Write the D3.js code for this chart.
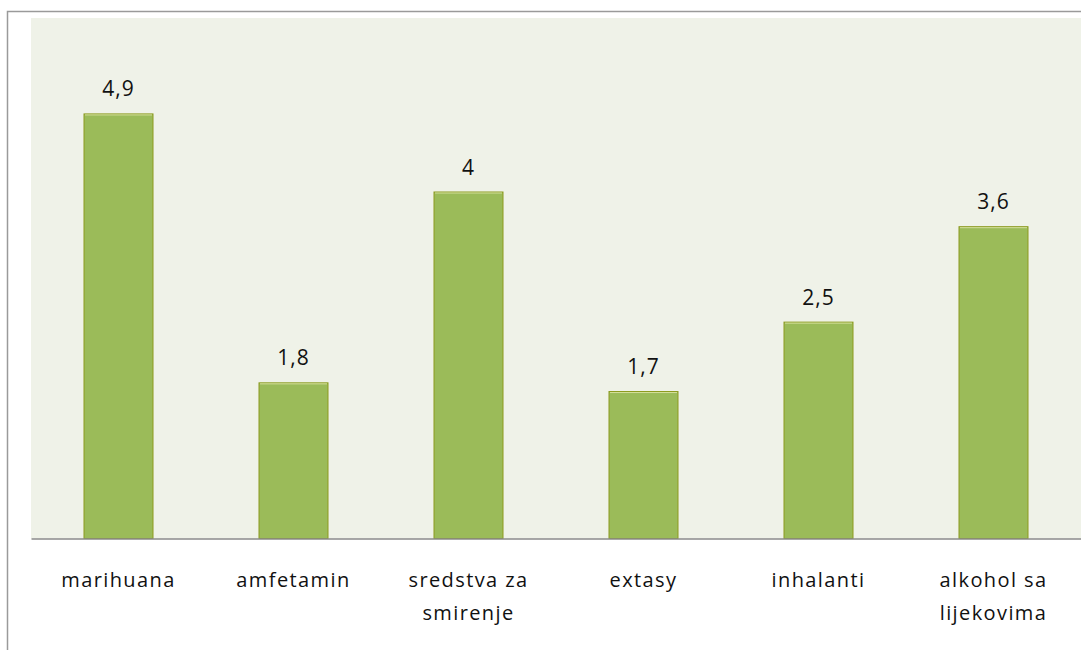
<!DOCTYPE html>
<html>
<head>
<meta charset="utf-8">
<script src="https://cdn.jsdelivr.net/npm/d3@7"></script>
<style>
  html, body { margin: 0; padding: 0; background: #fff; }
  svg { display: block; }
  text { font-family: "Open Sans", "Noto Sans", sans-serif; fill: #111; }
</style>
</head>
<body>
<svg id="chart" width="1081" height="650"></svg>
<script>
const categories = [
  ["marihuana"],
  ["amfetamin"],
  ["sredstva za", "smirenje"],
  ["extasy"],
  ["inhalanti"],
  ["alkohol sa", "lijekovima"]
];
const values = [4.9, 1.8, 4, 1.7, 2.5, 3.6];
const valueLabels = ["4,9", "1,8", "4", "1,7", "2,5", "3,6"];

const svg = d3.select("#chart");
const W = 1081, H = 650;
const plot = { left: 31, top: 18, right: 1081, bottom: 538.5 };

// outer chart frame
svg.append("rect")
  .attr("x", 7.5).attr("y", 11.5)
  .attr("width", W + 10).attr("height", H + 10)
  .attr("fill", "#fff")
  .attr("stroke", "#9a9a9a").attr("stroke-width", 1.5);

// plot area background
svg.append("rect")
  .attr("x", plot.left).attr("y", plot.top)
  .attr("width", plot.right - plot.left).attr("height", plot.bottom - plot.top)
  .attr("fill", "#eff2e8");

const keys = categories.map(c => c.join(" "));
const x = d3.scaleBand().domain(keys)
  .range([plot.left, plot.right])
  .paddingInner(0.6).paddingOuter(0.3);
const y = d3.scaleLinear().domain([0, 6]).range([plot.bottom, plot.top]);

const data = keys.map((k, i) => ({ key: k, lines: categories[i], v: values[i], label: valueLabels[i] }));

// bars
const bars = svg.append("g");
bars.selectAll("rect.bar").data(data).join("rect")
  .attr("class", "bar")
  .attr("x", d => x(d.key) + 0.5)
  .attr("y", d => y(d.v) + 0.5)
  .attr("width", x.bandwidth() - 1)
  .attr("height", d => y(0) - y(d.v) - 0.5)
  .attr("fill", "#9bbb59")
  .attr("stroke", "#8c9a1e").attr("stroke-width", 1);

// light highlight along each bar top
bars.selectAll("line.hi").data(data).join("line")
  .attr("class", "hi")
  .attr("x1", d => x(d.key) + 1.5).attr("x2", d => x(d.key) + x.bandwidth() - 1.5)
  .attr("y1", d => y(d.v) + 1.5).attr("y2", d => y(d.v) + 1.5)
  .attr("stroke", "#d4df9a").attr("stroke-width", 1);

// category axis line
const axis = svg.append("g")
  .attr("transform", `translate(0,${plot.bottom})`)
  .call(d3.axisBottom(x).tickSize(0).tickFormat(""));
axis.select(".domain").attr("stroke", "#8a8a8a").attr("stroke-width", 1.5);

// value labels
svg.append("g").selectAll("text").data(data).join("text")
  .attr("x", d => x(d.key) + x.bandwidth() / 2)
  .attr("y", d => y(d.v) - 17)
  .attr("text-anchor", "middle")
  .attr("font-size", 21)
  .attr("letter-spacing", 1)
  .text(d => d.label);

// category labels
const cat = svg.append("g").selectAll("text").data(data).join("text")
  .attr("x", d => x(d.key) + x.bandwidth() / 2)
  .attr("y", 587)
  .attr("text-anchor", "middle")
  .attr("font-size", 20)
  .attr("letter-spacing", 1.4);
cat.selectAll("tspan").data(d => d.lines.map(l => ({ l, cx: x(d.key) + x.bandwidth() / 2 })))
  .join("tspan")
  .attr("x", t => t.cx)
  .attr("dy", (t, i) => i === 0 ? 0 : 33)
  .text(t => t.l);
</script>
</body>
</html>
